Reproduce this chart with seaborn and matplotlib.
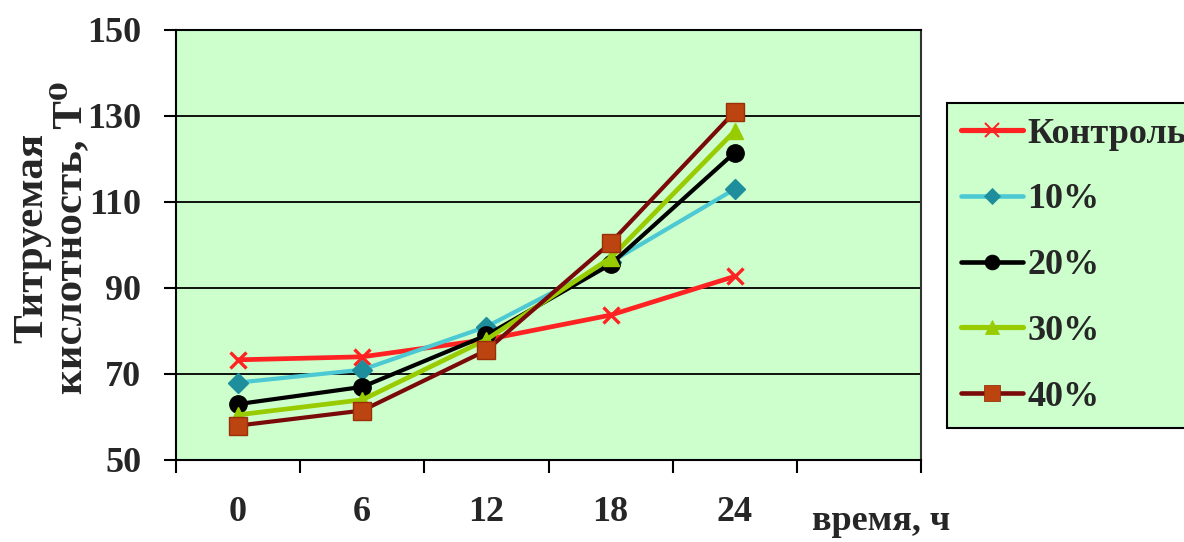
import matplotlib
matplotlib.use("Agg")
import matplotlib.pyplot as plt
from matplotlib.lines import Line2D
from matplotlib.ticker import FixedLocator, NullFormatter
import numpy as np
import pandas as pd
import seaborn as sns

# Time points (hours) and titratable acidity for each sample
hours = ["0", "6", "12", "18", "24"]
control = [73.3, 74.0, 78.0, 83.7, 92.7]
pct10 = [68.0, 71.0, 81.0, 96.0, 113.0]
pct20 = [63.0, 67.0, 79.0, 95.5, 121.5]
pct30 = [60.5, 64.0, 78.0, 97.0, 126.5]
pct40 = [58.0, 61.5, 75.5, 100.5, 131.0]
series_names = ["Контроль", "10%", "20%", "30%", "40%"]
y_ticks = [50, 70, 90, 110, 130, 150]

sns.set_theme(style="white")
plt.rcParams["font.family"] = ["Liberation Serif", "DejaVu Serif"]
plt.rcParams["font.weight"] = "bold"

styles = [
    dict(color="#FF2222", marker="x", mfc="#FF2222", mec="#FF2222", ms=12, mew=2.4, lw=3.4),
    dict(color="#4CC9D3", marker="D", mfc="#1E8E9C", mec="#1E8E9C", ms=10, mew=1, lw=3.0),
    dict(color="#000000", marker="o", mfc="#000000", mec="#000000", ms=12.5, mew=1, lw=3.0),
    dict(color="#99CC00", marker="^", mfc="#99CC00", mec="#99CC00", ms=12, mew=1, lw=3.4),
    dict(color="#7A0A0A", marker="s", mfc="#BB4410", mec="#9A300A", ms=13, mew=1, lw=3.0),
]
values = [control, pct10, pct20, pct30, pct40]

fig = plt.figure(figsize=(11.84, 5.42), dpi=100)
ax = fig.add_axes([176 / 1184, 82 / 542, 745 / 1184, 430 / 542])
ax.set_facecolor("#CCFFCC")

pos = np.arange(len(hours))
handles = []
for name, vals, st in zip(series_names, values, styles):
    df = pd.DataFrame({"pos": pos, "val": vals})
    sns.lineplot(data=df, x="pos", y="val", ax=ax, color=st["color"], lw=st["lw"],
                 marker=st["marker"], markersize=st["ms"], markerfacecolor=st["mfc"],
                 markeredgecolor=st["mec"], markeredgewidth=st["mew"], legend=False,
                 sort=False, errorbar=None)
    handles.append(Line2D([], [], color=st["color"], lw=st["lw"] * 1.1, marker=st["marker"],
                          markersize=st["ms"] * 0.85, markerfacecolor=st["mfc"],
                          markeredgecolor=st["mec"], markeredgewidth=st["mew"] * 0.6,
                          label=name))

# Category axis with an extra empty slot on the right
ax.set_xlim(-0.5, 5.5)
ax.set_xticks(pos)
ax.set_xticklabels(hours)
ax.xaxis.set_minor_locator(FixedLocator(np.arange(-0.5, 6.0, 1.0)))
ax.xaxis.set_minor_formatter(NullFormatter())
ax.tick_params(axis="x", which="major", length=0, pad=26, labelsize=26)
ax.tick_params(axis="x", which="minor", length=9, width=1.5, color="black",
               direction="out", bottom=True)

ax.set_ylim(50, 150)
ax.set_yticks(y_ticks)
ax.tick_params(axis="y", which="major", length=9, width=1.5, color="black",
               direction="out", left=True, pad=16, labelsize=26)
ax.yaxis.grid(True, color="black", lw=1.3)
ax.xaxis.grid(False)
ax.set_axisbelow(True)
for lab in ax.get_xticklabels() + ax.get_yticklabels():
    lab.set_fontweight("bold")

for sp in ax.spines.values():
    sp.set_color("black")
    sp.set_linewidth(1.5)
ax.spines["right"].set_color("#333333")

ax.set_xlabel("")
ax.set_ylabel("")

fig.text(52 / 1184, 1 - 238 / 542, "Титруемая\nкислотность, Т⁰", rotation=90,
         ha="center", va="center", multialignment="center", fontsize=31,
         fontweight="bold", linespacing=1.0)
fig.text(881 / 1184, 1 - 521 / 542, "время, ч", ha="center", va="center",
         fontsize=26, fontweight="bold")

leg = fig.legend(handles=handles, loc="upper left",
                 bbox_to_anchor=(947 / 1184, 1 - 103 / 542),
                 bbox_transform=fig.transFigure, fontsize=26, frameon=True,
                 fancybox=False, framealpha=1, facecolor="#CCFFCC",
                 edgecolor="black", handlelength=1.7, handletextpad=0.12,
                 labelspacing=0.9, borderpad=0.4, borderaxespad=0)
leg.get_frame().set_linewidth(1.5)
for t in leg.get_texts():
    t.set_fontweight("bold")

fig.savefig("out.png", dpi=100)
